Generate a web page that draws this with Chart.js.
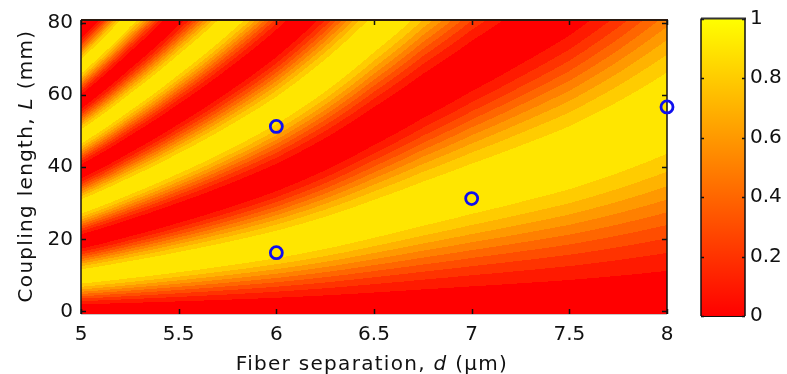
<!DOCTYPE html>
<html>
<head>
<meta charset="utf-8">
<script src="https://cdn.jsdelivr.net/npm/chart.js@4.4.1/dist/chart.umd.min.js"></script>
<style>
    html, body { margin: 0; padding: 0; background: #fff; }
    #wrap { position: relative; width: 787px; height: 374px; }
    #main { position: absolute; left: 0; top: 0; }
    #cbar { position: absolute; left: 690px; top: 0; }
</style>
</head>
<body>
<div id="wrap">
    <canvas id="main" width="787" height="374"></canvas>
    <canvas id="cbar" width="97" height="374"></canvas>
</div>
<script>
// fiber separation d (um) where the bands were read
const separation = [5.00, 5.25, 5.50, 5.75, 6.00, 6.25, 6.50, 6.75, 7.00, 7.25, 7.50, 7.75, 8.00];
// coupling length (mm) for full transfer at each separation
const couplingLength = [9.70, 11.60, 13.69, 15.99, 18.58, 21.80, 25.71, 29.87, 34.02, 38.17, 42.61, 48.29, 54.99];
// measured samples (blue circles)
const sampleD = [6, 6, 7, 8];
const sampleL = [51.3, 16.3, 31.3, 56.7];

const xTicks = [5, 5.5, 6, 6.5, 7, 7.5, 8];
const yTicks = [0, 20, 40, 60, 80];
const cbTicks = [0, 0.2, 0.4, 0.6, 0.8, 1];
const levelCount = 10;

const FONT = "'DejaVu Sans', Verdana, sans-serif";
const titleSpacing = '1.3px';

function autumn(v) {
    return `rgb(255,${Math.round(255 * v)},0)`;
}

// coupling length between two read columns (straight line in log scale)
function lcAt(d) {
    let i = 0;
    while (i < separation.length - 2 && d > separation[i + 1]) i++;
    const t = (d - separation[i]) / (separation[i + 1] - separation[i]);
    return Math.exp(Math.log(couplingLength[i]) * (1 - t) + Math.log(couplingLength[i + 1]) * t);
}

// filled contour, pixel by pixel through the scales
const heatmap = {
    id: 'heatmap',
    beforeDatasetsDraw(chart) {
        const { ctx, chartArea: a, scales: { x, y } } = chart;
        const left = Math.round(a.left), top = Math.round(a.top);
        const w = Math.round(a.right) - left, h = Math.round(a.bottom) - top;
        const img = ctx.createImageData(w, h);
        for (let c = 0; c < w; c++) {
            const lc = lcAt(x.getValueForPixel(left + c + 0.5));
            for (let r = 0; r < h; r++) {
                const L = y.getValueForPixel(top + r + 0.5);
                const s = L > 0 ? Math.sin(Math.PI * L / (2 * lc)) : 0;
                const lvl = Math.min(levelCount - 1, Math.floor(s * s * levelCount)) / levelCount;
                const k = (r * w + c) * 4;
                img.data[k] = 255;
                img.data[k + 1] = Math.round(255 * lvl);
                img.data[k + 2] = 0;
                img.data[k + 3] = 255;
            }
        }
        ctx.putImageData(img, left, top);
    }
};

// box with inward ticks, like the original axes
function drawFrame(chart, xs, ys, len, colors) {
    const { ctx, chartArea: a, scales } = chart;
    ctx.save();
    ctx.lineWidth = 1.5;
    ctx.strokeStyle = '#111';
    ctx.beginPath();
    if (xs) xs.forEach(v => {
        const px = Math.round(scales.x.getPixelForValue(v)) + 0.5;
        ctx.moveTo(px, a.bottom); ctx.lineTo(px, a.bottom - len);
        ctx.moveTo(px, a.top); ctx.lineTo(px, a.top + len);
    });
    ys.forEach(v => {
        const py = Math.round(scales.y.getPixelForValue(v)) + 0.5;
        ctx.moveTo(a.left, py); ctx.lineTo(a.left + len, py);
        ctx.moveTo(a.right, py); ctx.lineTo(a.right - len, py);
    });
    ctx.stroke();
    ctx.strokeStyle = colors.top;
    ctx.lineWidth = 2;
    ctx.beginPath(); ctx.moveTo(a.left, a.top); ctx.lineTo(a.right + 1, a.top); ctx.stroke();
    ctx.lineWidth = 1.5;
    ctx.strokeStyle = '#111';
    ctx.beginPath();
    ctx.moveTo(a.left, a.top); ctx.lineTo(a.left, a.bottom);
    ctx.moveTo(a.right, a.top); ctx.lineTo(a.right, a.bottom);
    ctx.stroke();
    ctx.strokeStyle = colors.bottom;
    ctx.lineWidth = 1;
    ctx.beginPath(); ctx.moveTo(a.left, a.bottom + 0.5); ctx.lineTo(a.right, a.bottom + 0.5); ctx.stroke();
    ctx.restore();
}

function drawSegments(ctx, segs, cx, cy, rot) {
    ctx.save();
    ctx.translate(cx, cy);
    ctx.rotate(rot);
    ctx.letterSpacing = titleSpacing;
    ctx.textBaseline = 'alphabetic';
    ctx.textAlign = 'left';
    ctx.fillStyle = '#111';
    let total = 0;
    segs.forEach(s => { ctx.font = s[1]; total += ctx.measureText(s[0]).width; });
    let pos = -total / 2;
    segs.forEach(s => {
        ctx.font = s[1];
        ctx.fillText(s[0], pos, 0);
        pos += ctx.measureText(s[0]).width;
    });
    ctx.restore();
}

const frame = {
    id: 'frame',
    beforeDatasetsDraw(chart) {
        drawFrame(chart, xTicks, yTicks, 5, { top: '#2a1a10', bottom: '#c8c8c8' });
    },
    afterDraw(chart) {
        const { ctx } = chart;
        const normal = `20px ${FONT}`;
        const italic = `italic 20px ${FONT}`;
        drawSegments(ctx, [['Fiber separation, ', normal], ['d', italic], [' (\u00b5m)', normal]], 372, 370, 0);
        drawSegments(ctx, [['Coupling length, ', normal], ['L', italic], [' (mm)', normal]], 31.5, 166, -Math.PI / 2);
    }
};

const plainLabel = v => String(+v.toFixed(2));

new Chart(document.getElementById('main'), {
    type: 'scatter',
    data: {
        datasets: [{
            data: sampleD.map((d, i) => ({ x: d, y: sampleL[i] })),
            borderColor: '#0f0fee',
            backgroundColor: 'rgba(0,0,0,0)',
            pointRadius: 6,
            pointBorderWidth: 2.8,
            pointHoverRadius: 6,
            clip: false
        }]
    },
    options: {
        responsive: false,
        animation: false,
        events: [],
        layout: { padding: { top: 17, right: 120, left: 0, bottom: 0 } },
        plugins: { legend: { display: false }, tooltip: { enabled: false } },
        scales: {
            x: {
                type: 'linear', min: 5, max: 8,
                grid: { display: false, drawTicks: false }, border: { display: false },
                afterBuildTicks: s => { s.ticks = xTicks.map(v => ({ value: v })); },
                afterFit: s => { s.height = 60; },
                ticks: { font: { family: FONT, size: 20 }, color: '#111', padding: 9, maxRotation: 0, callback: plainLabel }
            },
            y: {
                type: 'linear', min: -0.7, max: 80.8,
                grid: { display: false, drawTicks: false }, border: { display: false },
                afterBuildTicks: s => { s.ticks = yTicks.map(v => ({ value: v })); },
                afterFit: s => { s.width = 81; },
                ticks: { font: { family: FONT, size: 20 }, color: '#111', padding: 8, callback: plainLabel }
            }
        }
    },
    plugins: [heatmap, frame]
});

// colour bar
const cbFrame = {
    id: 'cbFrame',
    afterDatasetsDraw(chart) {
        drawFrame(chart, null, cbTicks, 3, { top: '#333', bottom: '#111' });
    }
};

new Chart(document.getElementById('cbar'), {
    type: 'bar',
    data: {
        labels: ['level'],
        datasets: [{
            data: [[cbTicks[0], cbTicks[cbTicks.length - 1]]],
            barPercentage: 1,
            categoryPercentage: 1,
            backgroundColor: ctx => {
                const a = ctx.chart.chartArea;
                if (!a) return 'red';
                const g = ctx.chart.ctx.createLinearGradient(0, a.bottom, 0, a.top);
                g.addColorStop(0, autumn(0));
                g.addColorStop(1, autumn(1));
                return g;
            }
        }]
    },
    options: {
        responsive: false,
        animation: false,
        events: [],
        layout: { padding: { top: 18.6, left: 11, right: 0, bottom: 58 } },
        plugins: { legend: { display: false }, tooltip: { enabled: false } },
        scales: {
            x: { display: false },
            y: {
                position: 'right', min: 0, max: 1,
                grid: { display: false, drawTicks: false }, border: { display: false },
                afterBuildTicks: s => { s.ticks = cbTicks.map(v => ({ value: v })); },
                afterFit: s => { s.width = 42; },
                ticks: { font: { family: FONT, size: 20 }, color: '#111', padding: 5, callback: plainLabel }
            }
        }
    },
    plugins: [cbFrame]
});
</script>
</body>
</html>
